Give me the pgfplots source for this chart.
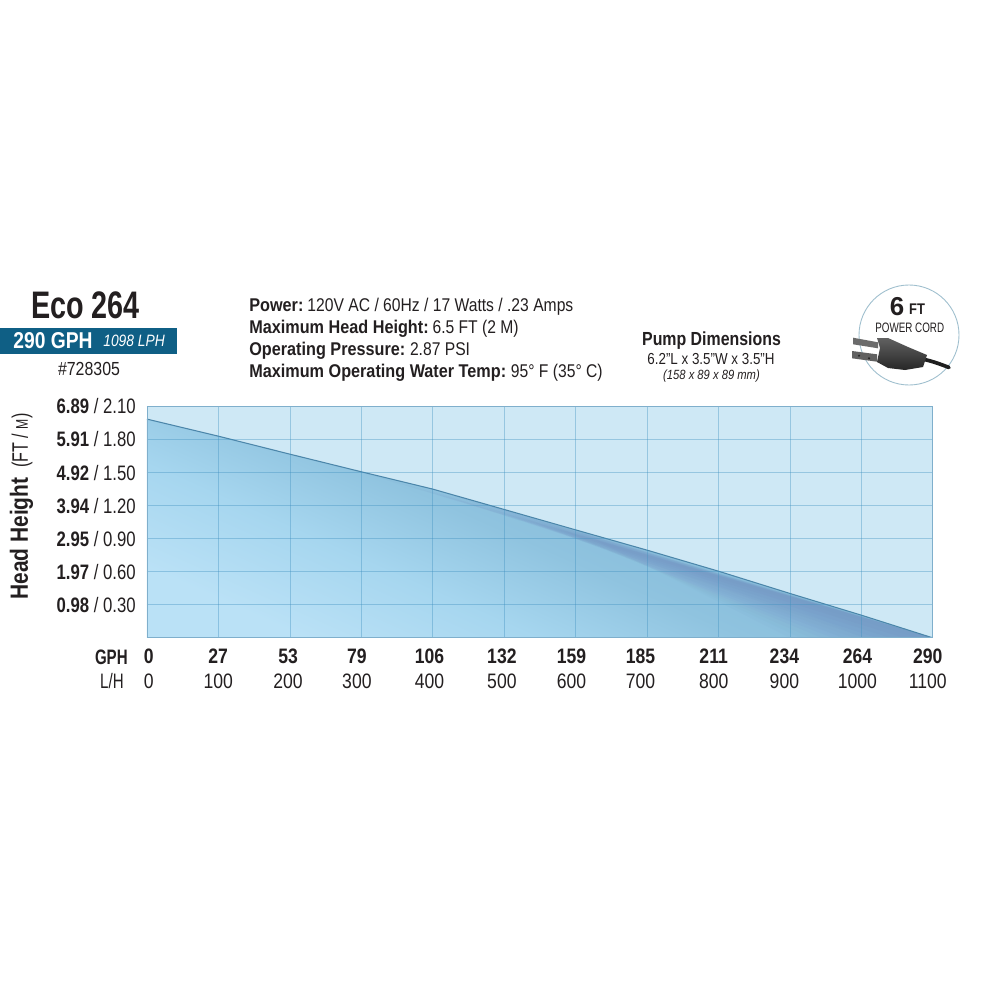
\documentclass[border=0pt]{standalone}
\usepackage{pgfplots}
\pgfplotsset{compat=1.18}
\usepackage{fontspec}
\setmainfont{Liberation Sans}[FakeStretch=0.84]
\newfontfamily\cond{Liberation Sans}[FakeStretch=0.75]
\newfontfamily\narrow{Liberation Sans}[FakeStretch=0.72]
\newfontfamily\ytk{Liberation Sans}[FakeStretch=0.80]
\newfontfamily\specf{Liberation Sans}[FakeStretch=0.85,BoldFeatures={FakeStretch=0.88}]
\definecolor{bgblue}{HTML}{CEE8F5}
\definecolor{teal}{HTML}{0F5F85}
\definecolor{txt}{HTML}{231F20}
\definecolor{gridc}{HTML}{3D8FBF}
\definecolor{band}{HTML}{6A7FB8}
\definecolor{axisc}{HTML}{7FAFCC}
\definecolor{linec}{HTML}{4C86AA}
\newcommand\pxfont[1]{\fontsize{\fpeval{#1*0.567}pt}{\fpeval{#1*0.68}pt}\selectfont}
\newcommand\xl[3]{\hspace*{#1pt}\begin{tabular}[t]{@{}c@{}}\textbf{#2}\\#3\end{tabular}}
\definecolor{g1}{HTML}{78AFD2}
\definecolor{g4}{HTML}{84BAD9}
\definecolor{g0}{HTML}{8FC3DF}
\definecolor{g3}{HTML}{A6D6EF}
\definecolor{g2}{HTML}{BAE1F6}
\pgfdeclareverticalshading{pumpgrad}{100bp}{
 color(0bp)=(g2); color(25bp)=(g2); color(37bp)=(g3); color(48bp)=(g0); color(60bp)=(g4); color(75bp)=(g1); color(100bp)=(g1)}
\begin{document}
\begin{tikzpicture}[x=0.02cm,y=-0.02cm]
\useasboundingbox[fill=white] (0,0) rectangle (1000,1000);
\begin{axis}[
  at={(2.94cm,-12.76cm)}, anchor=south west,
  scale only axis, width=15.72cm, height=4.63cm,
  xmin=0, xmax=1100, ymin=0, ymax=2.1,
  axis background/.style={fill=bgblue},
  axis on top,
  axis line style={draw=axisc, line width=0.5pt},
  grid=major, grid style={draw=gridc, opacity=0.38, line width=0.4pt},
  tick style={draw=none},
  xtick={0,100,...,1100}, ytick={0.3,0.6,...,2.1},
  xticklabels={\xl{2}{0}{0},\xl{-0.2}{27}{100},\xl{-2}{53}{200},\xl{-5}{79}{300},\xl{-3.6}{106}{400},\xl{-2.6}{132}{500},\xl{-4.6}{159}{600},\xl{-7.5}{185}{700},\xl{-5.5}{211}{800},\xl{-6.3}{234}{900},\xl{-4.5}{264}{1000},\xl{-5.8}{290}{1100}},
  yticklabels={\textbf{0.98} / 0.30,\textbf{1.97} / 0.60,\textbf{2.95} / 0.90,\textbf{3.94} / 1.20,\textbf{4.92} / 1.50,\textbf{5.91} / 1.80,\textbf{6.89} / 2.10},
  xticklabel style={font=\pxfont{21}\color{txt}, yshift=-4.5pt, align=center, inner sep=0pt},
  yticklabel style={font=\ytk\pxfont{21}\color{txt}, xshift=-6.2pt, inner sep=0pt},
]
\addplot[draw=none, shade, shading=pumpgrad, shading angle=-24] coordinates {(0,1.985)(100,1.83)(200,1.667)(300,1.507)(400,1.35)(500,1.165)(600,0.98)(700,0.796)(800,0.605)(900,0.403)(1000,0.206)(1100,0)} \closedcycle;
% darker band under the right part of the line
\addplot[draw=none, fill=band, fill opacity=0.05] coordinates {(280,1.54)(1100,0)(1080,0)};
\addplot[draw=none, fill=band, fill opacity=0.05] coordinates {(320,1.47)(1100,0)(1060,0)};
\addplot[draw=none, fill=band, fill opacity=0.05] coordinates {(350,1.42)(1100,0)(1040,0)};
\addplot[draw=none, fill=band, fill opacity=0.05] coordinates {(380,1.37)(1100,0)(1020,0)};
\addplot[draw=none, fill=band, fill opacity=0.05] coordinates {(400,1.35)(1100,0)(1005,0)};
\addplot[draw=none, fill=band, fill opacity=0.05] coordinates {(430,1.29)(1100,0)(990,0)};
\addplot[draw=none, fill=band, fill opacity=0.05] coordinates {(460,1.24)(1100,0)(975,0)};
\addplot[draw=none, fill=band, fill opacity=0.05] coordinates {(490,1.18)(1100,0)(960,0)};
\addplot[draw=none, fill=band, fill opacity=0.05] coordinates {(520,1.13)(1100,0)(945,0)};
\addplot[draw=none, fill=band, fill opacity=0.04] coordinates {(550,1.07)(1100,0)(930,0)};
\addplot[draw=none, fill=band, fill opacity=0.03] coordinates {(580,1.02)(1100,0)(915,0)};
\addplot[draw=none, fill=band, fill opacity=0.03] coordinates {(600,0.98)(1100,0)(900,0)};
\addplot[draw=linec, line width=0.6pt] coordinates {(0,1.985)(100,1.83)(200,1.667)(300,1.507)(400,1.35)(500,1.165)(600,0.98)(700,0.796)(800,0.605)(900,0.403)(1000,0.206)(1100,0)};
\end{axis}
\tikzset{every node/.style={inner sep=0pt, text=txt}}
% axis captions
\node[rotate=90, anchor=base west, font=\pxfont{25}] at (28,600) {\textbf{Head Height}\hspace{0.4em}{\narrow\pxfont{22.5}(FT / {\pxfont{17}M})}};
\node[anchor=east, font=\narrow\pxfont{21}\bfseries] at (128,657) {GPH};
\node[anchor=east, font=\narrow\pxfont{21}] at (124,681) {L/H};
% title block
\node[font=\cond\pxfont{38.5}\bfseries] at (85.5,305) {Eco 264};
\fill[teal] (0,328) rectangle (177,354);
\node[anchor=west, text=white, font=\pxfont{23}\bfseries] at (13,341) {290 GPH};
\node[anchor=west, text=white, font=\pxfont{16.5}\itshape] at (103,341) {1098 LPH};
\node[font=\pxfont{19}] at (89,369) {\#728305};
% specifications
\node[anchor=west, font=\specf\pxfont{18.5}] at (249,307) {\textbf{Power:}\hspace{-1pt} 120V AC / 60Hz / 17 Watts / .23 Amps};
\node[anchor=west, font=\specf\pxfont{18.5}] at (249,329) {\textbf{Maximum Head Height:}\hspace{-1.1pt} 6.5 FT (2 M)};
\node[anchor=west, font=\specf\pxfont{18.5}] at (249,351) {\textbf{Operating Pressure:}\hspace{-0.6pt} 2.87 PSI};
\node[anchor=west, font=\specf\pxfont{18.5}] at (249,373) {\textbf{Maximum Operating Water Temp:}\hspace{-0.6pt} 95° F (35° C)};
% dimensions
\node[font=\pxfont{19}\bfseries] at (711.5,341) {Pump Dimensions};
\node[font=\pxfont{16}] at (711,359) {6.2"L x 3.5"W x 3.5"H};
\node[font=\pxfont{13.4}\itshape] at (711.5,376) {(158 x 89 x 89 mm)};
% power cord badge
\draw[draw=teal!40!white, fill=white, line width=0.5pt] (909,335) circle (50);
\node[font=\fontspec{Liberation Sans}\pxfont{26}\bfseries] at (897,307) {6};
\node[font=\pxfont{15.5}\bfseries] at (917,309) {FT};
\node[font=\narrow\pxfont{13.7}] at (909.7,328) {POWER CORD};
\draw[line width=2.1pt, line cap=round, draw=black!88] (922,359) .. controls (932,361) and (940,364) .. (949,367.5);
\fill[black!58] (853,337.7) -- (878,342.3) -- (878,348.3) -- (853,344.3) -- cycle;
\fill[black!62] (852,351) -- (877,354.3) -- (877,361.7) -- (852,358.3) -- cycle;
\fill[black!85] (859,355.7) circle (1.2) (869,358.3) circle (1.2);
\shade[top color=black!62, bottom color=black!85] (877,338) -- (888,338) -- (908,347) -- (927,355) -- (923,367) -- (905,370) -- (888,368) -- (877,362) -- (880,348) -- cycle;
\end{tikzpicture}
\end{document}
